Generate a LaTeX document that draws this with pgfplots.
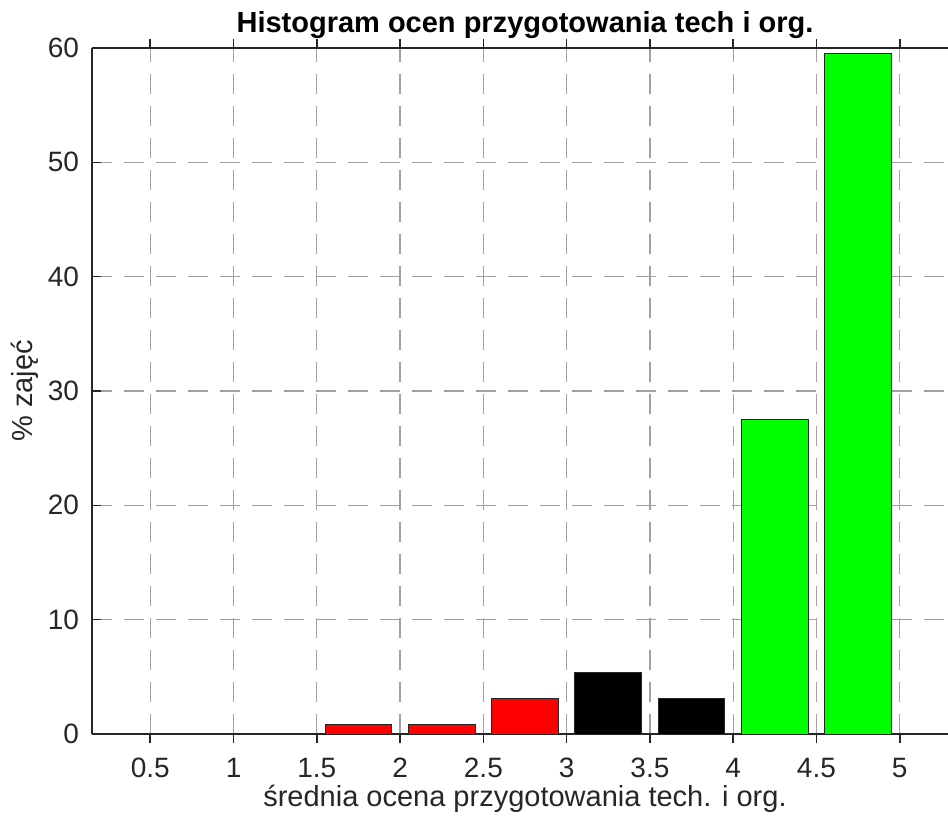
\documentclass[border=0pt]{standalone}
\usepackage{pgfplots}
\pgfplotsset{compat=1.18}
\usepackage{fontspec}
\setmainfont{Liberation Sans}

\definecolor{edgegray}{RGB}{38,38,38}
\definecolor{gridgray}{RGB}{160,160,160}

\begin{document}
\begin{tikzpicture}
\begin{axis}[
    name=ax,
    at={(0,0)}, anchor=south west,
    scale only axis,
    width=433pt, height=343pt,
    xmin=0.15, xmax=5.35,
    ymin=0, ymax=60,
    axis x line*=box,
    axis y line*=left,
    axis line style={edgegray, line width=0.6pt},
    xtick={0.5,1,1.5,2,2.5,3,3.5,4,4.5,5},
    xticklabels={0.5,1,1.5,2,2.5,3,3.5,4,4.5,5},
    ytick={0,10,20,30,40,50,60},
    tick align=inside,
    major tick length=4.5pt,
    tick style={edgegray, line width=0.8pt},
    every tick label/.append style={font=\fontsize{14}{16}\selectfont, text=black!85},
    xticklabel style={yshift=-4pt},
    yticklabel style={xshift=-3pt},
    /pgf/number format/assume math mode=true,
    xmajorgrids=true, ymajorgrids=true,
    grid style={gridgray, line width=0.6pt, dash pattern=on 10pt off 6pt},
    title={\bfseries Histogram ocen przygotowania tech i org.},
    title style={font=\fontsize{14.5}{16}\selectfont, yshift=-5pt},
    xlabel={średnia ocena przygotowania tech. i org.},
    ylabel={\% zajęć},
    label style={font=\fontsize{14.5}{16}\selectfont, text=black!85},
    xlabel style={yshift=3pt},
    ylabel style={yshift=-2pt},
    ybar, bar width=0.4, bar shift=0pt,
]
\addplot[fill=red, draw=edgegray, line width=0.5pt] coordinates {
    (1.75,0.85) (2.25,0.85) (2.75,3.1)
};
\addplot[fill=black, draw=edgegray, line width=0.5pt] coordinates {
    (3.25,5.4) (3.75,3.1)
};
\addplot[fill={rgb,1:red,0;green,1;blue,0}, draw=edgegray, line width=0.5pt] coordinates {
    (4.25,27.5) (4.75,59.5)
};
\end{axis}
\pgfresetboundingbox
\path[use as bounding box] (-46pt,-41pt) rectangle (428pt,367pt);
\end{tikzpicture}
\end{document}
